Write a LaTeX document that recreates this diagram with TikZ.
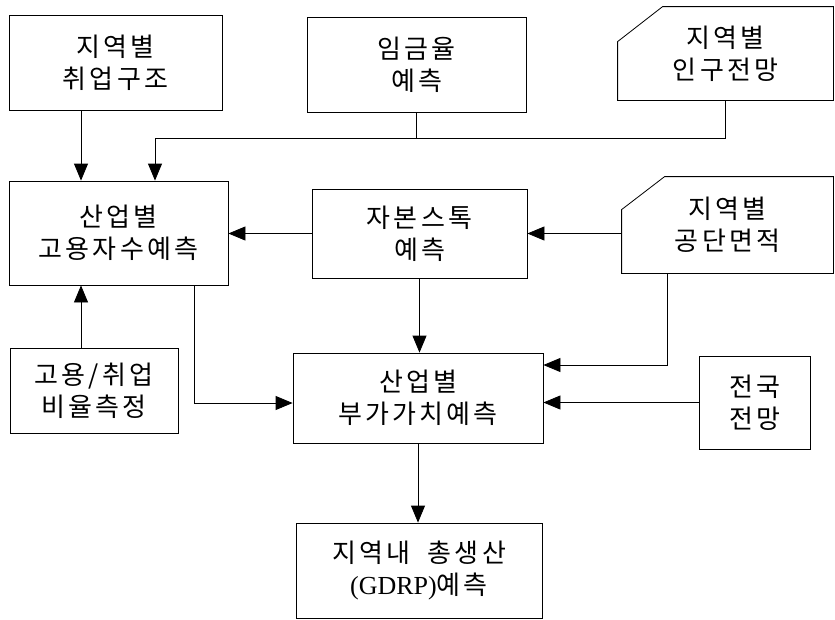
\documentclass[tikz,border=0pt]{standalone}
\usepackage{fontspec}
\setmainfont{Liberation Serif}
\newfontfamily\kr[LetterSpace=12]{Noto Sans CJK KR}
\usetikzlibrary{arrows.meta}

\tikzset{
  box/.style={draw, line width=0.8pt, inner sep=0pt, align=center,
    font=\kr\fontsize{26}{32}\selectfont},
  card/.style={box, draw=none},
  arr/.style={line width=0.8pt, -{Triangle[length=17pt,width=14pt]}},
  ln/.style={line width=0.8pt}
}

\begin{document}
\begin{tikzpicture}[x=1pt,y=-1pt]
		\useasboundingbox (0,0) rectangle (835,619);

		% top row
		\node[box, minimum width=213pt, minimum height=95pt] (jobs) at (115.5,62.5) {지역별\\취업구조};
		\node[box, minimum width=219pt, minimum height=95pt] (wage) at (416.5,64.5) {임금율\\예측};
		\node[card, minimum width=215pt, minimum height=93pt] (pop) at (725.5,53.5) {지역별\\인구전망};
		\draw[ln] (pop.south west) -- ([yshift=-35pt]pop.north west) -- ([xshift=45pt]pop.north west)
			-- (pop.north east) -- (pop.south east) -- cycle;

		% middle row
		\node[box, minimum width=219pt, minimum height=104pt] (emp) at (118.5,233) {산업별\\고용자수예측};
		\node[box, minimum width=215pt, minimum height=89pt] (cap) at (419.5,233.5) {자본스톡\\예측};
		\node[card, minimum width=211pt, minimum height=96pt] (area) at (727.5,225) {지역별\\공단면적};
		\draw[ln] (area.south west) -- ([yshift=-33pt]area.north west) -- ([xshift=43pt]area.north west)
			-- (area.north east) -- (area.south east) -- cycle;

		% lower rows
		\node[box, minimum width=168pt, minimum height=85pt] (ratio) at (94,390.5) {고용/취업\\비율측정};
		\node[box, minimum width=250pt, minimum height=90pt] (va) at (418,398) {산업별\\부가가치예측};
		\node[box, minimum width=111pt, minimum height=93pt] (nat) at (754.5,402.5) {전국\\전망};
		\node[box, minimum width=246pt, minimum height=95pt] (gdrp) at (419,570.5) {지역내\ \ 총생산\\{\rmfamily (GDRP)}예측};

		\coordinate (left) at (81,0);
		\coordinate (join) at (155,138);
		\coordinate (down) at (194,403);
		\coordinate (side) at (667,365);

		\draw[arr] (jobs.south -| left) -- (emp.north -| left);
		\draw[ln] (wage.south) -- (wage.south |- join);
		\draw[arr] (pop.south) |- (join) -- (emp.north -| join);
		\draw[arr] (cap.west) -- (emp.east |- cap.west);
		\draw[arr] (area.west |- cap.east) -- (cap.east);
		\draw[arr] (ratio.north -| left) -- (emp.south -| left);
		\draw[arr] (emp.south -| down) -- (down) -- (va.west |- down);
		\draw[arr] (cap.south) -- (va.north -| cap.south);
		\draw[arr] (area.south -| side) -- (side) -- (va.east |- side);
		\draw[arr] (nat.west) -- (va.east |- nat.west);
		\draw[arr] (va.south) -- (gdrp.north -| va.south);
	\end{tikzpicture}
\end{document}
